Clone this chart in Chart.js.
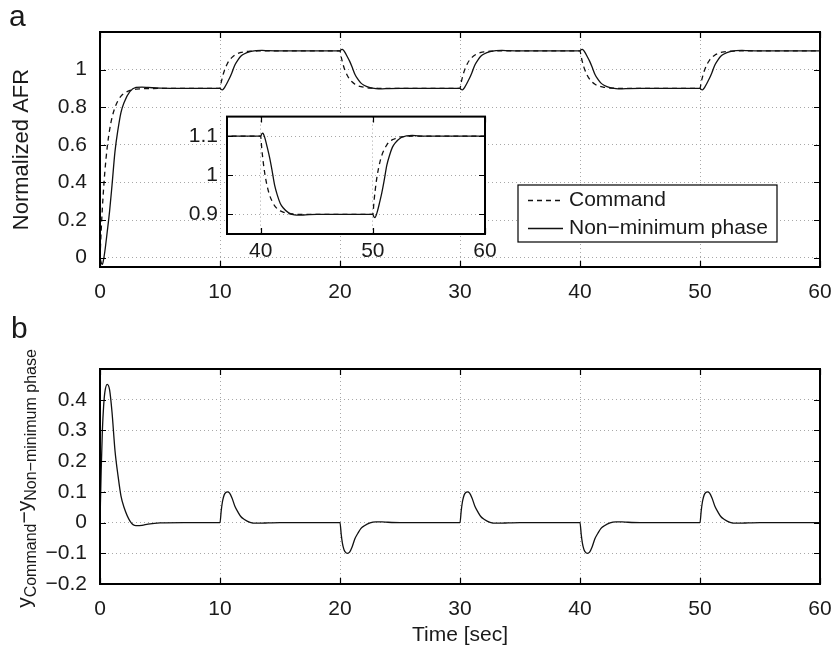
<!DOCTYPE html>
<html>
<head>
<meta charset="utf-8">
<script src="https://cdn.jsdelivr.net/npm/chart.js@4.4.1/dist/chart.umd.min.js"></script>
<style>
  html, body { margin: 0; padding: 0; background: #fff; overflow: hidden; }
  #wrap { position: relative; width: 831px; height: 649px; overflow: hidden; background: #fff; }
  #wrap canvas { position: absolute; }
  #afrChart { left: 0; top: 0; }
  #diffChart { left: 0; top: 300px; }
  #zoomChart { left: 150px; top: 95px; }
</style>
</head>
<body>
<div id="wrap">
  <canvas id="afrChart" width="860" height="320"></canvas>
  <canvas id="diffChart" width="860" height="349"></canvas>
  <canvas id="zoomChart" width="369" height="175"></canvas>
</div>
<script>
// sample times [sec], one block per set-point change
const timeSec = [
  0, 0.1, 0.2, 0.3, 0.4, 0.6, 0.8, 1, 1.25, 1.5, 1.75, 2, 2.5, 3, 3.5, 4, 5, 7,
  10, 10.1, 10.2, 10.3, 10.4, 10.6, 10.8, 11, 11.25, 11.5, 11.75, 12, 12.5, 13, 13.5, 14, 15, 17,
  20, 20.1, 20.2, 20.3, 20.4, 20.6, 20.8, 21, 21.25, 21.5, 21.75, 22, 22.5, 23, 23.5, 24, 25, 27,
  30, 30.1, 30.2, 30.3, 30.4, 30.6, 30.8, 31, 31.25, 31.5, 31.75, 32, 32.5, 33, 33.5, 34, 35, 37,
  40, 40.1, 40.2, 40.3, 40.4, 40.6, 40.8, 41, 41.25, 41.5, 41.75, 42, 42.5, 43, 43.5, 44, 45, 47,
  50, 50.1, 50.2, 50.3, 50.4, 50.6, 50.8, 51, 51.25, 51.5, 51.75, 52, 52.5, 53, 53.5, 54, 55, 57,
  60
];

const command = [
  0, 0.145, 0.266, 0.368, 0.454, 0.586, 0.679, 0.744, 0.799, 0.835, 0.859, 0.873, 0.889, 0.896, 0.898, 0.899, 0.9, 0.9,
  0.9, 0.932, 0.959, 0.982, 1.001, 1.030, 1.051, 1.065, 1.078, 1.086, 1.091, 1.094, 1.098, 1.099, 1.1, 1.1, 1.1, 1.1,
  1.1, 1.068, 1.041, 1.018, 0.999, 0.970, 0.949, 0.935, 0.922, 0.914, 0.909, 0.906, 0.902, 0.901, 0.9, 0.9, 0.9, 0.9,
  0.9, 0.932, 0.959, 0.982, 1.001, 1.030, 1.051, 1.065, 1.078, 1.086, 1.091, 1.094, 1.098, 1.099, 1.1, 1.1, 1.1, 1.1,
  1.1, 1.068, 1.041, 1.018, 0.999, 0.970, 0.949, 0.935, 0.922, 0.914, 0.909, 0.906, 0.902, 0.901, 0.9, 0.9, 0.9, 0.9,
  0.9, 0.932, 0.959, 0.982, 1.001, 1.030, 1.051, 1.065, 1.078, 1.086, 1.091, 1.094, 1.098, 1.099, 1.1, 1.1, 1.1, 1.1,
  1.1
];

const nonMinPhase = [
  0, -0.027, -0.036, -0.009, 0.031, 0.136, 0.247, 0.384, 0.565, 0.682, 0.773, 0.824, 0.884, 0.905, 0.907, 0.905, 0.901, 0.9,
  0.9, 0.894, 0.892, 0.898, 0.907, 0.930, 0.955, 0.985, 1.026, 1.052, 1.072, 1.083, 1.096, 1.101, 1.102, 1.101, 1.1, 1.1,
  1.1, 1.106, 1.108, 1.102, 1.093, 1.070, 1.045, 1.015, 0.974, 0.948, 0.928, 0.917, 0.904, 0.899, 0.898, 0.899, 0.9, 0.9,
  0.9, 0.894, 0.892, 0.898, 0.907, 0.930, 0.955, 0.985, 1.026, 1.052, 1.072, 1.083, 1.096, 1.101, 1.102, 1.101, 1.1, 1.1,
  1.1, 1.106, 1.108, 1.102, 1.093, 1.070, 1.045, 1.015, 0.974, 0.948, 0.928, 0.917, 0.904, 0.899, 0.898, 0.899, 0.9, 0.9,
  0.9, 0.894, 0.892, 0.898, 0.907, 0.930, 0.955, 0.985, 1.026, 1.052, 1.072, 1.083, 1.096, 1.101, 1.102, 1.101, 1.1, 1.1,
  1.1
];

// y_Command - y_Non-minimum phase
const trackingError = [
  0, 0.171, 0.302, 0.378, 0.423, 0.450, 0.432, 0.360, 0.234, 0.153, 0.086, 0.050, 0.005, -0.010, -0.009, -0.005, -0.001, 0,
  0, 0.038, 0.067, 0.084, 0.094, 0.100, 0.096, 0.080, 0.052, 0.034, 0.019, 0.011, 0.001, -0.002, -0.002, -0.001, 0, 0,
  0, -0.038, -0.067, -0.084, -0.094, -0.100, -0.096, -0.080, -0.052, -0.034, -0.019, -0.011, -0.001, 0.002, 0.002, 0.001, 0, 0,
  0, 0.038, 0.067, 0.084, 0.094, 0.100, 0.096, 0.080, 0.052, 0.034, 0.019, 0.011, 0.001, -0.002, -0.002, -0.001, 0, 0,
  0, -0.038, -0.067, -0.084, -0.094, -0.100, -0.096, -0.080, -0.052, -0.034, -0.019, -0.011, -0.001, 0.002, 0.002, 0.001, 0, 0,
  0, 0.038, 0.067, 0.084, 0.094, 0.100, 0.096, 0.080, 0.052, 0.034, 0.019, 0.011, 0.001, -0.002, -0.002, -0.001, 0, 0,
  0
];

const timeTicks = [0, 10, 20, 30, 40, 50, 60];
const afrTicks = [0, 0.2, 0.4, 0.6, 0.8, 1];
const errorTicks = [-0.2, -0.1, 0, 0.1, 0.2, 0.3, 0.4];
const zoomTimeTicks = [40, 50, 60];
const zoomAfrTicks = [0.9, 1, 1.1];

const FONT = '"Liberation Sans", Arial, Helvetica, sans-serif';
Chart.defaults.font.family = FONT;
Chart.defaults.font.size = 21;
Chart.defaults.color = "#1a1a1a";
Chart.defaults.animation = false;

const points = (ys) => timeSec.map((t, i) => ({ x: t, y: ys[i] }));
const fmt = (v) => String(v).replace("-", "\u2212");
const fixTicks = (list) => (scale) => { scale.ticks = list.map(v => ({ value: v })); };

function lineSet(label, ys, dashed) {
    return {
        label: label,
        data: points(ys),
        borderColor: "#111",
        borderWidth: 1.3,
        borderDash: dashed ? [5, 4] : [],
        pointRadius: 0,
        cubicInterpolationMode: "monotone",
        fill: false
    };
}

function axis(min, max, ticks, extra) {
    return Object.assign({
        type: "linear",
        min: min,
        max: max,
        afterBuildTicks: fixTicks(ticks),
        grid: { color: "#a8a8a8", lineWidth: 1, drawTicks: false },
        border: { display: false, dash: [1, 3] },
        ticks: { padding: 13, callback: fmt, maxRotation: 0, autoSkip: false }
    }, extra);
}

// black frame with inward tick marks on all four sides
const axesBox = {
    id: "axesBox",
    afterDraw(chart) {
        const { ctx, chartArea: a, scales } = chart;
        const len = 6;
        ctx.save();
        ctx.strokeStyle = "#000";
        ctx.lineWidth = 1.2;
        ctx.beginPath();
        scales.x.ticks.forEach(t => {
            const px = Math.round(scales.x.getPixelForValue(t.value)) + 0.5;
            ctx.moveTo(px, a.bottom); ctx.lineTo(px, a.bottom - len);
            ctx.moveTo(px, a.top); ctx.lineTo(px, a.top + len);
        });
        scales.y.ticks.forEach(t => {
            const py = Math.round(scales.y.getPixelForValue(t.value)) + 0.5;
            ctx.moveTo(a.left, py); ctx.lineTo(a.left + len, py);
            ctx.moveTo(a.right, py); ctx.lineTo(a.right - len, py);
        });
        ctx.stroke();
        ctx.lineWidth = 2;
        ctx.strokeRect(a.left, a.top, a.right - a.left, a.bottom - a.top);
        ctx.restore();
    }
};

// panel letter in the top-left corner
const panelTag = {
    id: "panelTag",
    afterDraw(chart, args, opts) {
        if (!opts.text) return;
        const ctx = chart.ctx;
        ctx.save();
        ctx.font = "30px " + FONT;
        ctx.fillStyle = "#1a1a1a";
        ctx.textBaseline = "alphabetic";
        ctx.fillText(opts.text, opts.x, opts.y);
        ctx.restore();
    }
};

// boxed legend placed inside the plot
const boxLegend = {
    id: "boxLegend",
    afterDraw(chart, args, opts) {
        if (!opts.show) return;
        const ctx = chart.ctx;
        ctx.save();
        ctx.fillStyle = "#fff";
        ctx.fillRect(opts.left, opts.top, opts.width, opts.height);
        ctx.strokeStyle = "#000";
        ctx.lineWidth = 1.2;
        ctx.strokeRect(opts.left, opts.top, opts.width, opts.height);
        ctx.font = "21px " + FONT;
        ctx.textBaseline = "middle";
        chart.data.datasets.forEach((ds, i) => {
            const y = Math.round(opts.top + opts.rowTop + i * opts.rowGap) + 0.5;
            ctx.strokeStyle = ds.borderColor;
            ctx.lineWidth = ds.borderWidth;
            ctx.setLineDash(ds.borderDash);
            ctx.beginPath();
            ctx.moveTo(opts.left + 10, y);
            ctx.lineTo(opts.left + 45, y);
            ctx.stroke();
            ctx.setLineDash([]);
            ctx.fillStyle = "#1a1a1a";
            ctx.fillText(ds.label, opts.left + 51, y);
        });
        ctx.restore();
    }
};

// white background behind the zoomed plot
const plotFill = {
    id: "plotFill",
    beforeDraw(chart) {
        const a = chart.chartArea;
        chart.ctx.save();
        chart.ctx.fillStyle = "#fff";
        chart.ctx.fillRect(a.left, a.top, a.right - a.left, a.bottom - a.top);
        chart.ctx.restore();
    }
};

// y label with subscripts: y_Command - y_Non-minimum phase
const subscriptTitle = {
    id: "subscriptTitle",
    afterDraw(chart, args, opts) {
        if (!opts.show) return;
        const ctx = chart.ctx;
        const a = chart.chartArea;
        const parts = [
            { t: "y", size: 21, dy: 0 },
            { t: "Command", size: 16, dy: 5 },
            { t: "\u2212", size: 21, dy: 0 },
            { t: "y", size: 21, dy: 0 },
            { t: "Non\u2212minimum phase", size: 16, dy: 5 }
        ];
        ctx.save();
        let total = 0;
        parts.forEach(p => { ctx.font = p.size + "px " + FONT; p.w = ctx.measureText(p.t).width; total += p.w; });
        ctx.translate(opts.x, (a.top + a.bottom) / 2 + 2);
        ctx.rotate(-Math.PI / 2);
        ctx.fillStyle = "#1a1a1a";
        ctx.textBaseline = "alphabetic";
        let cx = -total / 2;
        parts.forEach(p => {
            ctx.font = p.size + "px " + FONT;
            ctx.fillText(p.t, cx, p.dy);
            cx += p.w;
        });
        ctx.restore();
    }
};

Chart.register(axesBox, panelTag, boxLegend, subscriptTitle);

// (a) normalized AFR
new Chart(document.getElementById("afrChart"), {
    type: "line",
    data: {
        datasets: [
            lineSet("Command", command, true),
            lineSet("Non\u2212minimum phase", nonMinPhase, false)
        ]
    },
    options: {
        responsive: false,
        layout: { padding: { left: 0, top: 32, right: 40, bottom: 0 } },
        scales: {
            x: axis(0, 60, timeTicks, { afterFit: (s) => { s.height = 53; } }),
            y: axis(-0.05, 1.2, afrTicks, {
                afterFit: (s) => { s.width = 100; },
                title: { display: true, text: "Normalized AFR", font: { size: 22 }, padding: { top: 9, bottom: 0 } }
            })
        },
        plugins: {
            legend: { display: false },
            tooltip: { enabled: false },
            panelTag: { text: "a", x: 9, y: 26 },
            boxLegend: { show: true, left: 518, top: 185, width: 259, height: 57, rowTop: 15, rowGap: 28 }
        }
    }
});

// (b) tracking error
new Chart(document.getElementById("diffChart"), {
    type: "line",
    data: { datasets: [lineSet("Error", trackingError, false)] },
    options: {
        responsive: false,
        layout: { padding: { left: 0, top: 69, right: 40, bottom: 0 } },
        scales: {
            x: axis(0, 60, timeTicks, {
                afterFit: (s) => { s.height = 65; },
                title: { display: true, text: "Time [sec]", font: { size: 21 }, padding: { top: 0, bottom: 1 } }
            }),
            y: axis(-0.2, 0.5, errorTicks, { afterFit: (s) => { s.width = 100; } })
        },
        plugins: {
            legend: { display: false },
            tooltip: { enabled: false },
            panelTag: { text: "b", x: 11, y: 38 },
            subscriptTitle: { show: true, x: 31 }
        }
    }
});

// zoomed view of 37-60 s
new Chart(document.getElementById("zoomChart"), {
    type: "line",
    data: {
        datasets: [
            lineSet("Command", command, true),
            lineSet("Non\u2212minimum phase", nonMinPhase, false)
        ]
    },
    plugins: [plotFill],
    options: {
        responsive: false,
        layout: { padding: { left: 0, top: 14, right: 34, bottom: 0 } },
        scales: {
            x: axis(37, 60, zoomTimeTicks, { afterFit: (s) => { s.height = 36; }, ticks: { padding: 5, callback: fmt, maxRotation: 0, autoSkip: false } }),
            y: axis(0.85, 1.15, zoomAfrTicks, { afterFit: (s) => { s.width = 77; }, ticks: { padding: 9, callback: fmt, autoSkip: false } })
        },
        plugins: {
            legend: { display: false },
            tooltip: { enabled: false }
        }
    }
});
</script>
</body>
</html>
